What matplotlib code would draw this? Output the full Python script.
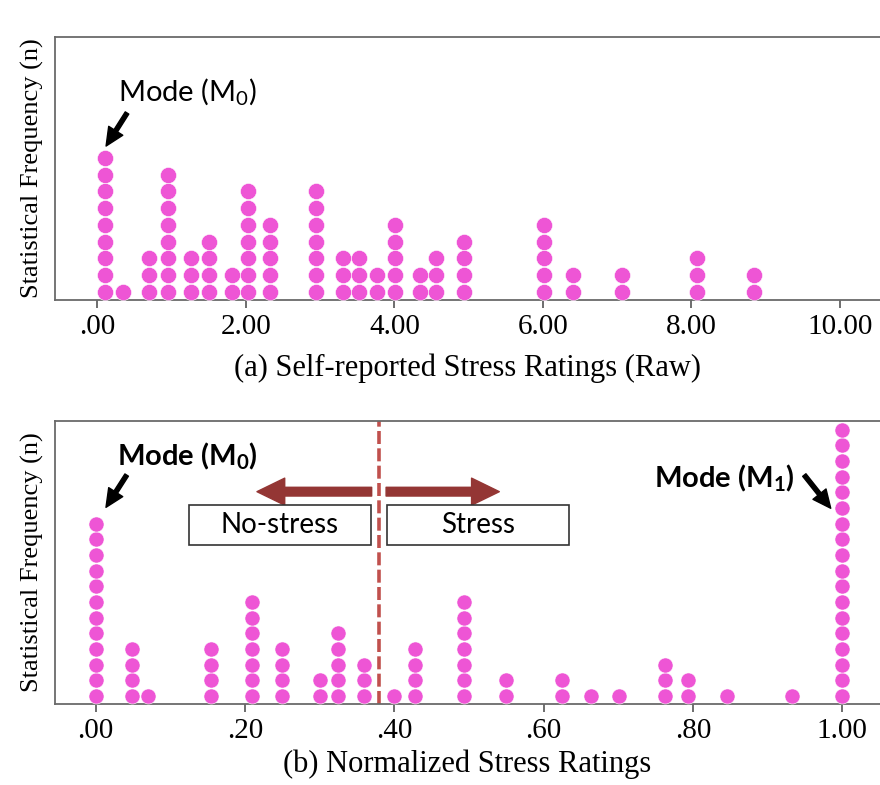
import numpy as np
import matplotlib
matplotlib.use("Agg")
import matplotlib.pyplot as plt
from matplotlib.patches import Rectangle

# raw self-reported ratings: value -> number of respondents
raw_values = [0.10, 0.35, 0.70, 0.95, 1.26, 1.51, 1.81, 2.03, 2.33, 2.95, 3.31,
              3.53, 3.76, 4.01, 4.34, 4.56, 4.94, 6.01, 6.41, 7.07, 8.07, 8.84]
raw_counts = [9, 1, 3, 8, 3, 4, 2, 7, 5, 7, 3, 3, 2, 5, 2, 3, 4, 5, 2, 2, 3, 2]
raw_ticks = [0, 2, 4, 6, 8, 10]

# normalized ratings
norm_values = [0.00, 0.049, 0.070, 0.155, 0.210, 0.249, 0.301, 0.325, 0.360, 0.40,
               0.428, 0.493, 0.55, 0.624, 0.664, 0.701, 0.763, 0.794, 0.845, 0.933, 1.00]
norm_counts = [12, 4, 1, 4, 7, 4, 2, 5, 3, 1, 4, 7, 2, 2, 1, 1, 3, 2, 1, 1, 18]
norm_ticks = [0.0, 0.2, 0.4, 0.6, 0.8, 1.0]
threshold = 0.38

DOT = "#EE55D5"
SERIF = "Liberation Serif"
SANS = "Lato"
BLACK_ARROW = dict(arrowstyle="simple,head_length=13,head_width=12,tail_width=3",
                   mutation_scale=1, color="black", shrinkA=0, shrinkB=0)


def fmt(v):
    s = f"{v:.2f}"
    return s[1:] if s.startswith("0") else s


def dot_stacks(values, counts):
    xs, ys = [], []
    for v, c in zip(values, counts):
        xs += [v] * c
        ys += list(np.arange(c) + 0.5)
    return xs, ys


def style_axes(ax, ticks, xlabel, pad):
    ax.set_xticks(ticks)
    ax.set_xticklabels([fmt(t) for t in ticks], fontfamily=SERIF, fontsize=21)
    ax.set_yticks([])
    for side in ["left", "top", "bottom"]:
        ax.spines[side].set_color("#6a6a6a")
        ax.spines[side].set_linewidth(1.3)
    ax.spines["right"].set_visible(False)
    ax.tick_params(axis="x", direction="out", length=6, width=1.2, color="#555555", pad=4)
    ax.set_xlabel(xlabel, fontfamily=SERIF, fontsize=22, labelpad=pad)
    ax.set_ylabel("Statistical Frequency (n)", fontfamily=SERIF, fontsize=19, labelpad=8)


fig = plt.figure(figsize=(8.8, 7.85), dpi=100)
ax1 = fig.add_axes([0.0625, 0.6178, 0.9375, 0.3351])
ax2 = fig.add_axes([0.0625, 0.1032, 0.9375, 0.3605])

# (a) raw ratings
xs, ys = dot_stacks(raw_values, raw_counts)
ax1.scatter(xs, ys, s=135, color=DOT, edgecolors="white", linewidths=0.4, zorder=3)
ax1.set_xlim(-0.57, 10.54)
ax1.set_ylim(0, 15.75)
style_axes(ax1, raw_ticks, "(a) Self-reported Stress Ratings (Raw)", 10)

ax1.text(0.279, 12.46, "Mode ($\\mathregular{M_0}$)", fontfamily=SANS, fontsize=21,
         ha="left", va="center")
ax1.annotate("", xy=(0.118, 9.22), xytext=(0.40, 11.2), arrowprops=BLACK_ARROW)

# (b) normalized ratings
xs, ys = dot_stacks(norm_values, norm_counts)
ax2.scatter(xs, ys, s=118, color=DOT, edgecolors="white", linewidths=0.4, zorder=3)
ax2.set_xlim(-0.0545, 1.0506)
ax2.set_ylim(0, 18.06)
style_axes(ax2, norm_ticks, "(b) Normalized Stress Ratings", 4)

ax2.axvline(threshold, color="#C0504D", lw=2.6, dashes=(3.6, 1.2), zorder=2)

# direction arrows either side of the threshold
arrow_style = "simple,head_length=20,head_width=19.5,tail_width=6.3"
ax2.annotate("", xy=(0.216, 13.55), xytext=(0.3697, 13.55),
             arrowprops=dict(arrowstyle=arrow_style, mutation_scale=1, color="#943634",
                             shrinkA=0, shrinkB=0))
ax2.annotate("", xy=(0.5407, 13.55), xytext=(0.389, 13.55),
             arrowprops=dict(arrowstyle=arrow_style, mutation_scale=1, color="#943634",
                             shrinkA=0, shrinkB=0))

for x0, x1, label in [(0.1254, 0.3684, "No-stress"), (0.3898, 0.6344, "Stress")]:
    ax2.add_patch(Rectangle((x0, 10.15), x1 - x0, 2.55, facecolor="white",
                            edgecolor="#333333", lw=1.2, zorder=4))
    ax2.text((x0 + x1) / 2, 11.43, label, fontfamily=SANS, fontsize=20,
             ha="center", va="center", zorder=5)

ax2.text(0.0281, 15.78, "Mode ($\\mathregular{M_0}$)", fontfamily=SANS, fontsize=21,
         fontweight="bold", ha="left", va="center")
ax2.annotate("", xy=(0.0138, 12.55), xytext=(0.0415, 14.61), arrowprops=BLACK_ARROW)

ax2.text(0.9368, 14.40, "Mode ($\\mathregular{M_1}$)", fontfamily=SANS, fontsize=21,
         fontweight="bold", ha="right", va="center")
ax2.annotate("", xy=(0.9846, 12.49), xytext=(0.9492, 14.61), arrowprops=BLACK_ARROW)

fig.savefig("out.png", dpi=100)
